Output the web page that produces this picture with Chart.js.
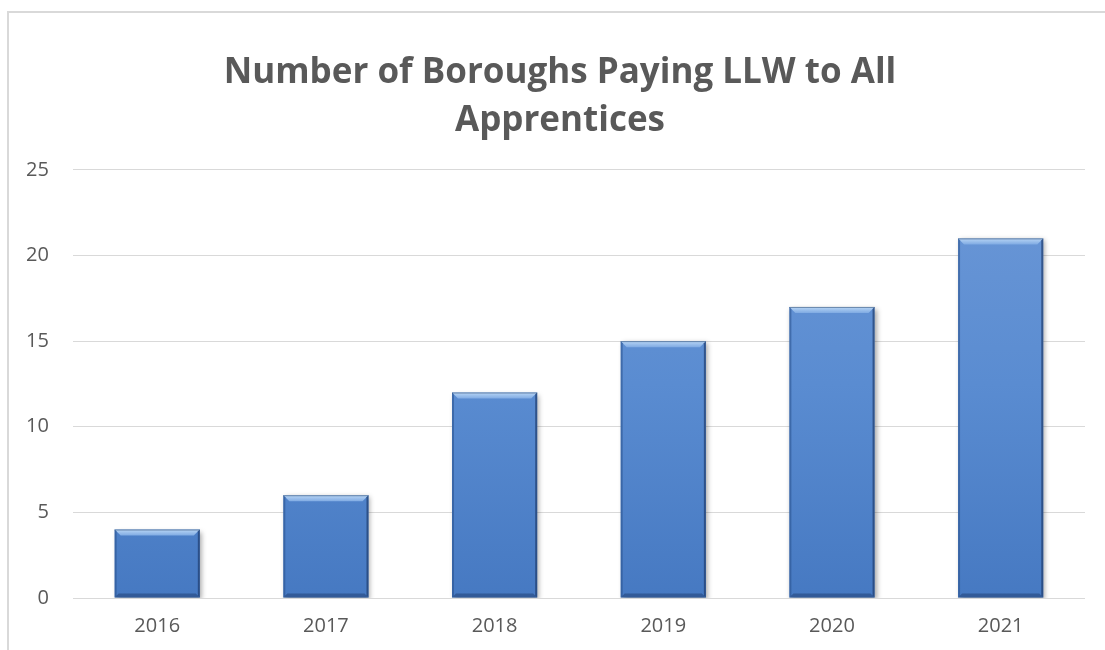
<!DOCTYPE html>
<html><head><meta charset="utf-8">
<script src="https://cdn.jsdelivr.net/npm/chart.js@4"></script>
<style>
html,body{margin:0;padding:0;background:#fff;}
#wrap{position:absolute;left:0;top:0;width:1105px;height:650px;}
#frame{position:absolute;left:7px;top:11px;width:1200px;height:700px;border-left:2px solid #d9d9d9;border-top:2px solid #d9d9d9;}
canvas{position:absolute;left:0;top:0;}
</style></head>
<body><div id="wrap"><div id="frame"></div><canvas id="c" width="1105" height="650"></canvas></div>
<script>
const categories = ['2016','2017','2018','2019','2020','2021'];
const boroughs = [4, 6, 12, 15, 17, 21];
const yTicks = [0, 5, 10, 15, 20, 25];
const titleLines = ['Number of Boroughs Paying LLW to All', 'Apprentices'];

const titleShift = {
  id: 'titleShift',
  afterLayout(chart) {
    if (chart.titleBlock) { chart.titleBlock.left += 33; }
  }
};

const bevel = {
  id: 'bevel',
  beforeDatasetsDraw(chart) {
    const ctx = chart.ctx;
    ctx.save();
    ctx.shadowColor = 'rgba(0,0,0,0.35)';
    ctx.shadowBlur = 5;
    ctx.shadowOffsetX = 2;
    ctx.shadowOffsetY = 2;
  },
  afterDatasetsDraw(chart) {
    const ctx = chart.ctx;
    ctx.restore();
    const meta = chart.getDatasetMeta(0);
    meta.data.forEach(bar => {
      const l = bar.x - bar.width / 2, r = bar.x + bar.width / 2;
      const t = bar.y, b = bar.base;
      const s = 6;
      ctx.save();
      let g = ctx.createLinearGradient(0, t, 0, t + s);
      g.addColorStop(0, '#b9d6f5'); g.addColorStop(1, '#80abe3');
      ctx.fillStyle = g;
      ctx.beginPath(); ctx.moveTo(l, t); ctx.lineTo(r, t); ctx.lineTo(r - s, t + s); ctx.lineTo(l + s, t + s); ctx.closePath(); ctx.fill();
      ctx.fillStyle = 'rgba(40,80,140,0.55)';
      ctx.beginPath(); ctx.moveTo(l, t); ctx.lineTo(l + 2, t + 2); ctx.lineTo(l + 2, b - 2); ctx.lineTo(l, b); ctx.closePath(); ctx.fill();
      ctx.fillStyle = 'rgba(30,60,110,0.7)';
      ctx.beginPath(); ctx.moveTo(r, t); ctx.lineTo(r - 2, t + 2); ctx.lineTo(r - 2, b - 2); ctx.lineTo(r, b); ctx.closePath(); ctx.fill();
      ctx.fillStyle = 'rgba(30,60,110,0.5)';
      ctx.beginPath(); ctx.moveTo(l, b); ctx.lineTo(r, b); ctx.lineTo(r - 4, b - 4); ctx.lineTo(l + 4, b - 4); ctx.closePath(); ctx.fill();
      ctx.strokeStyle = 'rgba(50,80,120,0.6)';
      ctx.lineWidth = 1;
      ctx.beginPath(); ctx.moveTo(l, t + 0.5); ctx.lineTo(r, t + 0.5); ctx.stroke();
      ctx.restore();
    });
  }
};

new Chart(document.getElementById('c'), {
  type: 'bar',
  data: {
    labels: categories,
    datasets: [{
      data: boroughs,
      backgroundColor: (c) => {
        const ch = c.chart; const a = ch.chartArea;
        if (!a) return '#5b8fd2';
        const g = ch.ctx.createLinearGradient(0, a.top, 0, a.bottom);
        g.addColorStop(0, '#6c98d7');
        g.addColorStop(0.5, '#5a8cd1');
        g.addColorStop(1, '#4679c2');
        return g;
      },
      borderWidth: 0,
      barPercentage: 1,
      categoryPercentage: 0.505
    }]
  },
  plugins: [bevel, titleShift],
  options: {
    responsive: false,
    animation: false,
    events: [],
    layout: { padding: { left: 2, right: 20, top: 49, bottom: 4 } },
    plugins: {
      legend: { display: false },
      tooltip: { enabled: false },
      title: {
        display: true,
        text: titleLines,
        color: '#595959',
        font: { family: 'Open Sans', size: 35, weight: 'bold', lineHeight: 1.37 },
        padding: { top: 0, bottom: 25 }
      }
    },
    scales: {
      x: {
        grid: { display: false },
        border: { display: false },
        ticks: { color: '#595959', font: { family: 'Open Sans', size: 20 }, padding: 8 }
      },
      y: {
        min: 0, max: 25,
        afterBuildTicks: (ax) => { ax.ticks = yTicks.map(v => ({ value: v })); },
        grid: { color: '#d9d9d9', lineWidth: 1, drawTicks: false },
        border: { display: false },
        ticks: { color: '#595959', font: { family: 'Open Sans', size: 20 }, padding: 24 }
      }
    }
  }
});
</script></body></html>
